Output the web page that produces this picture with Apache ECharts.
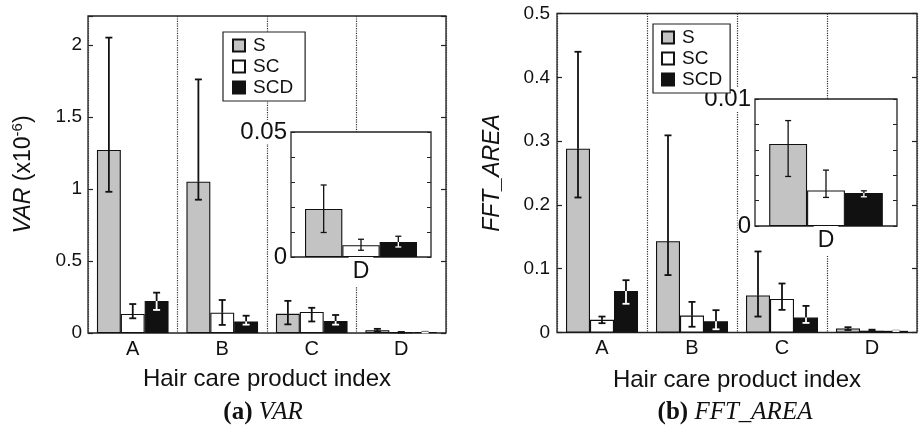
<!DOCTYPE html>
<html><head><meta charset="utf-8">
<script src="https://cdn.jsdelivr.net/npm/echarts@6/dist/echarts.min.js"></script>
<style>html,body{margin:0;padding:0;background:#fff}#c{width:924px;height:432px}</style>
</head><body><div id="c"></div><script>
const categories = ['A', 'B', 'C', 'D'];
const seriesNames = ['S', 'SC', 'SCD'];
const insetCategories = ['D'];

// (a) VAR (x10^-6): mean, lower and upper error-bar ends
const varS = [1.27, 1.05, 0.133, 0.0192];
const varSLow = [0.98, 0.925, 0.06, 0.0098];
const varSHigh = [2.05, 1.76, 0.223, 0.0288];
const varSC = [0.132, 0.141, 0.146, 0.0047];
const varSCLow = [0.102, 0.056, 0.08, 0.0027];
const varSCHigh = [0.201, 0.229, 0.175, 0.0071];
const varSCD = [0.222, 0.08, 0.083, 0.006];
const varSCDLow = [0.16, 0.058, 0.058, 0.004];
const varSCDHigh = [0.28, 0.12, 0.125, 0.0083];

// (b) FFT_AREA
const fftS = [0.288, 0.143, 0.058, 0.00646];
const fftSLow = [0.2116, 0.09, 0.025, 0.0039];
const fftSHigh = [0.44, 0.309, 0.127, 0.0083];
const fftSC = [0.0198, 0.0266, 0.0527, 0.0028];
const fftSCLow = [0.0146, 0.009, 0.0355, 0.00225];
const fftSCHigh = [0.025, 0.048, 0.0768, 0.0044];
const fftSCD = [0.065, 0.0175, 0.0234, 0.0026];
const fftSCDLow = [0.045, 0.005, 0.015, 0.0023];
const fftSCDHigh = [0.082, 0.035, 0.0417, 0.00277];

// axis ticks
const varTicks = { min: 0, max: 2.2, interval: 0.5 };
const varInsetTicks = { min: 0, max: 0.05, interval: 0.01 };
const fftTicks = { min: 0, max: 0.5, interval: 0.1 };
const fftInsetTicks = { min: 0, max: 0.01, interval: 0.002 };

const FONT = '"Liberation Sans", Arial, sans-serif';
const SERIF = '"Liberation Serif", "Times New Roman", serif';
const INK = '#111';
const fills = ['#c3c3c3', '#ffffff', '#111111'];

function errRenderer(lineW, halfCap) {
  return function (params, api) {
    const cat = api.value(0), lo = api.value(1), hi = api.value(2), v = api.value(3), k = api.value(4);
    const base = api.coord([cat, 0]);
    const bw = api.size([1, 0])[0] * 0.8 / 3;
    const x = base[0] + (k - 1) * bw;
    const yLo = api.coord([cat, lo])[1];
    const yHi = api.coord([cat, hi])[1];
    const yV = api.coord([cat, v])[1];
    const lowColor = k === 2 ? '#fff' : INK;
    const seg = (x1, y1, x2, y2, c) => ({ type: 'line', shape: { x1, y1, x2, y2 }, style: { stroke: c, lineWidth: lineW } });
    return { type: 'group', children: [
      seg(x, yHi, x, yV, INK),
      seg(x, yV, x, yLo, lowColor),
      seg(x - halfCap, yHi, x + halfCap, yHi, INK),
      seg(x - halfCap, yLo, x + halfCap, yLo, lowColor)
    ] };
  };
}

function errData(vals, lows, highs, indices) {
  const out = [];
  for (let k = 0; k < 3; k++) {
    indices.forEach((i, j) => out.push([j, lows[k][i], highs[k][i], vals[k][i], k]));
  }
  return out;
}

const varVals = [varS, varSC, varSCD], varLows = [varSLow, varSCLow, varSCDLow], varHighs = [varSHigh, varSCHigh, varSCDHigh];
const fftVals = [fftS, fftSC, fftSCD], fftLows = [fftSLow, fftSCLow, fftSCDLow], fftHighs = [fftSHigh, fftSCHigh, fftSCDHigh];

const grids = [
  { left: 88, top: 16, width: 358, height: 317, show: true, borderColor: '#222', borderWidth: 1.3, backgroundColor: '#fff', z: 0 },
  { left: 291, top: 132, width: 140, height: 125, show: true, borderColor: '#222', borderWidth: 1.3, backgroundColor: '#fff', z: 10 },
  { left: 557, top: 13.5, width: 360, height: 319, show: true, borderColor: '#222', borderWidth: 1.3, backgroundColor: '#fff', z: 0 },
  { left: 755, top: 99, width: 142, height: 127, show: true, borderColor: '#222', borderWidth: 1.3, backgroundColor: '#fff', z: 10 }
];

function mainX(gridIndex, nameGap) {
  return {
    type: 'category', gridIndex, data: categories, boundaryGap: true,
    name: 'Hair care product index', nameLocation: 'middle', nameGap,
    nameTextStyle: { fontFamily: FONT, fontSize: 24, color: INK },
    axisLine: { show: false }, axisTick: { show: false },
    axisLabel: { fontFamily: FONT, fontSize: 20, color: INK, margin: 6 },
    splitLine: { show: true, lineStyle: { type: 'dotted', color: '#333', width: 1.2 } }
  };
}
function insetX(gridIndex) {
  return {
    type: 'category', gridIndex, data: insetCategories, boundaryGap: true, z: 11,
    axisLine: { show: false }, axisTick: { show: false },
    axisLabel: { fontFamily: FONT, fontSize: 23, color: INK, margin: 0, backgroundColor: '#fff', padding: [3, 4, 3, 4] },
    splitLine: { show: false }
  };
}
function yAx(gridIndex, t, opts) {
  return Object.assign({
    type: 'value', gridIndex, min: t.min, max: t.max, interval: t.interval,
    axisLine: { show: false },
    axisTick: { show: true, inside: true, length: 5, lineStyle: { color: '#222', width: 1.2 } },
    splitLine: { show: false }
  }, opts);
}
const fmtMain = t => v => (Math.abs(Math.round(v / t.interval) * t.interval - v) < 1e-9) ? String(+v.toFixed(4)) : '';
const fmtInset = t => v => (v === 0 ? '0' : (Math.abs(v - t.max) < 1e-12 ? String(t.max) : ''));

const xAxes = [mainX(0, 34), insetX(1), mainX(2, 36), insetX(3)];
const yAxes = [
  yAx(0, varTicks, {
    position: 'left',
    axisLabel: { fontFamily: FONT, fontSize: 19, color: INK, margin: 6, formatter: fmtMain(varTicks) },
    name: '{i|VAR} (x10{s|-6})', nameLocation: 'middle', nameGap: 50, nameRotate: 90,
    nameTextStyle: { fontFamily: FONT, fontSize: 23, color: INK,
      rich: { i: { fontStyle: 'italic', fontFamily: FONT, fontSize: 23, color: INK, lineHeight: 28 },
              s: { fontFamily: FONT, fontSize: 15, color: INK, verticalAlign: 'top', lineHeight: 15 } } }
  }),
  yAx(0, varTicks, { position: 'right', axisLabel: { show: false } }),
  yAx(1, varInsetTicks, { position: 'left', z: 11, axisTick: { show: true, inside: true, length: 4, lineStyle: { color: '#222', width: 1 } },
    axisLabel: { fontFamily: FONT, fontSize: 24, color: INK, margin: 4, backgroundColor: '#fff', formatter: fmtInset(varInsetTicks) } }),
  yAx(1, varInsetTicks, { position: 'right', z: 11, axisTick: { show: true, inside: true, length: 4, lineStyle: { color: '#222', width: 1 } }, axisLabel: { show: false } }),
  yAx(2, fftTicks, {
    position: 'left',
    axisLabel: { fontFamily: FONT, fontSize: 19, color: INK, margin: 7, formatter: fmtMain(fftTicks) },
    name: 'FFT_AREA', nameLocation: 'middle', nameGap: 53, nameRotate: 90,
    nameTextStyle: { fontFamily: FONT, fontSize: 23, fontStyle: 'italic', color: INK }
  }),
  yAx(2, fftTicks, { position: 'right', axisLabel: { show: false } }),
  yAx(3, fftInsetTicks, { position: 'left', z: 11, axisTick: { show: true, inside: true, length: 4, lineStyle: { color: '#222', width: 1 } },
    axisLabel: { fontFamily: FONT, fontSize: 24, color: INK, margin: 4, backgroundColor: '#fff', formatter: fmtInset(fftInsetTicks) } }),
  yAx(3, fftInsetTicks, { position: 'right', z: 11, axisTick: { show: true, inside: true, length: 4, lineStyle: { color: '#222', width: 1 } }, axisLabel: { show: false } })
];

const series = [];
function addBars(vals, xIdx, yIdx, pick, z) {
  seriesNames.forEach((name, k) => {
    series.push({
      type: 'bar', name, xAxisIndex: xIdx, yAxisIndex: yIdx, z,
      data: pick(vals[k]), barGap: '0%', barCategoryGap: '20%',
      itemStyle: { color: fills[k], borderColor: INK, borderWidth: 1.1 },
      emphasis: { disabled: true }, animation: false
    });
  });
}
addBars(varVals, 0, 0, a => a.slice(), 2);
addBars(varVals, 1, 2, a => [a[3]], 12);
addBars(fftVals, 2, 4, a => a.slice(), 2);
addBars(fftVals, 3, 6, a => [a[3]], 12);

function addErr(vals, lows, highs, idx, xIdx, yIdx, lw, cap, z) {
  series.push({
    type: 'custom', xAxisIndex: xIdx, yAxisIndex: yIdx, z, silent: true, animation: false,
    renderItem: errRenderer(lw, cap), encode: { x: 0, y: [1, 2] },
    data: errData(vals, lows, highs, idx)
  });
}
addErr(varVals, varLows, varHighs, [0, 1, 2, 3], 0, 0, 1.8, 3.5, 3);
addErr(varVals, varLows, varHighs, [3], 1, 2, 1.3, 3, 13);
addErr(fftVals, fftLows, fftHighs, [0, 1, 2, 3], 2, 4, 1.8, 3.5, 3);
addErr(fftVals, fftLows, fftHighs, [3], 3, 6, 1.3, 3, 13);

function legend(left, top, padding) {
  return {
    data: seriesNames, orient: 'vertical', left, top, padding, z: 20,
    icon: 'rect', itemWidth: 12, itemHeight: 12, itemGap: 2, selectedMode: false,
    backgroundColor: '#fff', borderColor: '#222', borderWidth: 1.2, borderRadius: 0,
    textStyle: { fontFamily: FONT, fontSize: 19, color: INK, lineHeight: 19, padding: [0, 0, 0, 3] }
  };
}

const capRich = {
  b: { fontFamily: SERIF, fontWeight: 'bold', fontSize: 25, color: INK },
  i: { fontFamily: SERIF, fontWeight: 'normal', fontStyle: 'italic', fontSize: 25, color: INK }
};

const option = {
  animation: false,
  backgroundColor: '#fff',
  grid: grids,
  xAxis: xAxes,
  yAxis: yAxes,
  legend: [legend(223, 32, [4, 12, 4, 9]), legend(653, 24, [4, 8, 4, 8])],
  title: [
    { text: '{b|(a)} {i|VAR}', left: 263, top: 400, textAlign: 'center', padding: 0,
      textStyle: { fontWeight: 'normal', fontFamily: SERIF, fontSize: 25, rich: capRich } },
    { text: '{b|(b)} {i|FFT_AREA}', left: 735, top: 400, textAlign: 'center', padding: 0,
      textStyle: { fontWeight: 'normal', fontFamily: SERIF, fontSize: 25, rich: capRich } }
  ],
  series
};
const chart = echarts.init(document.getElementById('c'), null, { renderer: 'canvas' });
chart.setOption(option);
</script></body></html>
